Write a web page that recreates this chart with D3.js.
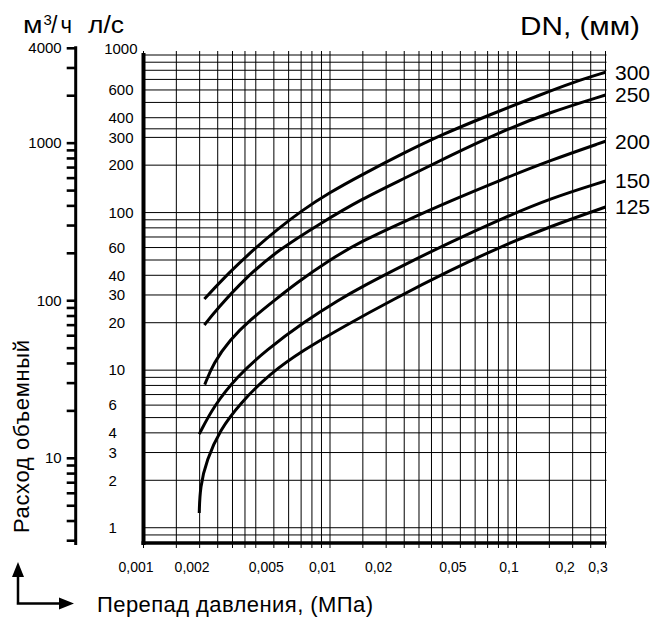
<!DOCTYPE html>
<html><head><meta charset="utf-8">
<script src="https://cdn.jsdelivr.net/npm/d3@7"></script>
<style>
body{margin:0;background:#fff}
text{font-family:"Liberation Sans",Arial,Helvetica,sans-serif;fill:#000}
</style>
</head><body>
<svg id="c" width="654" height="619"></svg>
<script>
// ---- data ----
const xGrid = [0.001,0.0015,0.002,0.0025,0.003,0.0035,0.004,0.005,0.006,0.007,0.008,0.009,
               0.01,0.015,0.02,0.025,0.03,0.035,0.04,0.05,0.06,0.07,0.08,0.09,
               0.1,0.15,0.2,0.25,0.3];
const xTickLabels = [0.001,0.002,0.005,0.01,0.02,0.05,0.1,0.2,0.3];
const yGrid = [0.9,1,2,3,4,5,6,7,8,9,10,20,30,40,50,60,70,80,90,100,200,300,340,400,500,600,700,800,900,1000];
const yTickLabels = [1,2,3,4,6,10,20,30,40,60,100,200,300,400,600,1000];
const m3hTicks = [3,4,5,6,7,8,9,10,20,30,40,50,60,70,80,90,100,200,300,400,500,600,700,800,900,1000,2000,3000,4000];
const m3hLabels = [10,100,1000,4000];
const dnNames = ["300","250","200","150","125"];

const p300 = [0.00212,0.00285,0.00396,0.00528,0.00707,0.0098,0.0148,0.0253,0.039,0.0723,0.134,0.202,0.3];
const q300 = [28.3,41.2,59.3,79.1,103.1,132.6,173.7,241.3,309.4,418.6,559,673,776.7];
const p250 = [0.00212,0.00247,0.00351,0.00528,0.00904,0.0148,0.0253,0.0441,0.0819,0.152,0.3];
const q250 = [19.35,24.3,38.4,57.9,86.5,122,165.8,230.2,324.6,434.8,557.4];
const p200 = [0.00213,0.00237,0.00291,0.00372,0.00519,0.0065,0.0098,0.0148,0.0253,0.0441,0.0819,0.152,0.3];
const q200 = [8.1,11.1,15.6,20.8,28.5,35.2,49.6,66.0,88.4,118.4,160.5,214.7,283.4];
const p150 = [0.00199,0.00237,0.00316,0.00458,0.0072,0.0113,0.0148,0.0253,0.0441,0.0819,0.152,0.3];
const q150 = [3.93,5.87,9.09,13.5,20.1,28.2,33.8,47.0,64.8,90.6,123.2,158.6];
const p125 = [0.00199,0.00201,0.00218,0.00257,0.0033,0.00478,0.0072,0.0118,0.0219,0.0441,0.0819,0.152,0.3];
const q125 = [1.24,1.82,2.69,4.18,6.17,9.56,13.4,18.9,28.2,43.0,60.7,81.8,108.5];

const M3H_PER_LS = 3.6;

// ---- build ----
const series = [
  {name: dnNames[0], p: p300, q: q300},
  {name: dnNames[1], p: p250, q: q250},
  {name: dnNames[2], p: p200, q: q200},
  {name: dnNames[3], p: p150, q: q150},
  {name: dnNames[4], p: p125, q: q125}
];

const svg = d3.select("#c");
const x = d3.scaleLog().domain([0.001, 0.3]).range([143.5, 605.5]);
const y = d3.scaleLog().domain([0.8, 1000]).range([543, 55]);
const yM = d3.scaleLog().domain([0.8*M3H_PER_LS, 1000*M3H_PER_LS]).range([543, 55]);

// grid
const grid = svg.append("g").attr("stroke", "#000").attr("stroke-width", 1);
grid.selectAll("line.v").data(xGrid).join("line").attr("class","v")
  .attr("x1", d => x(d)).attr("x2", d => x(d))
  .attr("y1", y(1000) - 4).attr("y2", y(0.8) + 5);
grid.selectAll("line.h").data(yGrid).join("line").attr("class","h")
  .attr("x1", x(0.001)).attr("x2", x(0.3) + 1)
  .attr("y1", d => y(d)).attr("y2", d => y(d));

// thick axes
svg.append("line").attr("x1", x(0.001)).attr("x2", x(0.001))
  .attr("y1", y(1000) - 2).attr("y2", y(0.8) + 2)
  .attr("stroke", "#000").attr("stroke-width", 4);
svg.append("line").attr("x1", x(0.001) - 2).attr("x2", x(0.3) + 1)
  .attr("y1", y(0.8)).attr("y2", y(0.8))
  .attr("stroke", "#000").attr("stroke-width", 3.5);

// x labels
svg.append("g").selectAll("text").data(xTickLabels).join("text")
  .attr("x", d => x(d) - 7.5).attr("y", 571.5)
  .attr("text-anchor", "middle").attr("font-size", 14)
  .text(d => String(d).replace(".", ","));

// inner y labels (l/s)
const yl = svg.append("g").selectAll("text").data(yTickLabels).join("text")
  .attr("y", d => y(d)).attr("dy", d => d === 1000 ? "-0.1em" : "0.35em")
  .attr("font-size", 15)
  .text(d => d);
yl.each(function(){
  const w = this.getComputedTextLength();
  d3.select(this).attr("x", Math.min(108.5, 137.5 - w));
});

// outer axis (m3/h)
const axM = d3.axisLeft(yM).tickValues(m3hTicks).tickSize(9).tickPadding(5)
  .tickFormat(d => m3hLabels.includes(d) ? d : "");
const gM = svg.append("g").attr("transform", "translate(75.7,0)").call(axM);
gM.select(".domain").remove();
gM.selectAll(".tick line").attr("stroke", "#000").attr("stroke-width", 2.6);
gM.selectAll(".tick text").attr("font-size", 15).attr("fill", "#000");
gM.attr("font-family", null).attr("font-size", null);
svg.append("line").attr("x1", 75.7).attr("x2", 75.7)
  .attr("y1", yM(4000) - 1.5).attr("y2", y(0.8) + 2)
  .attr("stroke", "#000").attr("stroke-width", 3);

// curves
const line = d3.line().x(d => x(d[0])).y(d => y(d[1])).curve(d3.curveBasis);
svg.append("g").selectAll("path").data(series).join("path")
  .attr("d", s => line(s.p.map((p, i) => [p, s.q[i]])))
  .attr("fill", "none").attr("stroke", "#000").attr("stroke-width", 3);

// DN labels
svg.append("g").selectAll("text").data(series).join("text")
  .attr("x", 615).attr("y", s => y(s.q[s.q.length - 1]))
  .attr("dy", "0.35em").attr("font-size", 21)
  .text(s => s.name);

// titles
svg.append("text").attr("x", 520).attr("y", 34.5).attr("font-size", 26)
  .attr("textLength", 120).attr("lengthAdjust", "spacingAndGlyphs").text("DN, (мм)");

svg.append("text").attr("x", 23).attr("y", 33.3).attr("font-size", 23)
  .attr("textLength", 19.5).attr("lengthAdjust", "spacingAndGlyphs").text("м");
svg.append("text").attr("x", 43.5).attr("y", 24.5).attr("font-size", 15).text("3");
svg.append("text").attr("x", 51).attr("y", 33.3).attr("font-size", 23).text("/");
svg.append("text").attr("x", 60.5).attr("y", 33.3).attr("font-size", 23)
  .attr("textLength", 11.5).attr("lengthAdjust", "spacingAndGlyphs").text("ч");
svg.append("text").attr("x", 88).attr("y", 33.3).attr("font-size", 23)
  .attr("textLength", 36).attr("lengthAdjust", "spacingAndGlyphs").text("л/с");

svg.append("text").attr("x", 97).attr("y", 612).attr("font-size", 22)
  .attr("textLength", 276).attr("lengthAdjust", "spacing").text("Перепад давления, (МПа)");

svg.append("text").attr("transform", "translate(28.5,533) rotate(-90)")
  .attr("font-size", 22).attr("textLength", 193).attr("lengthAdjust", "spacing")
  .text("Расход объемный");

// arrows
svg.append("path").attr("d", "M18,604 V575 M16.7,603.5 H61")
  .attr("stroke", "#000").attr("stroke-width", 2.5).attr("fill", "none");
svg.append("path").attr("d", "M18,562 L12,577 L24,577 Z M74,603.5 L59,597.5 L59,609.5 Z").attr("fill", "#000");
</script>
</body></html>
